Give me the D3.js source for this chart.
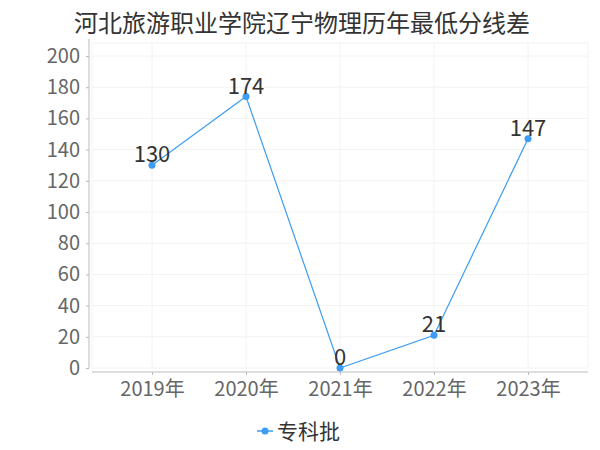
<!DOCTYPE html>
<html><head><meta charset="utf-8">
<script src="https://cdn.jsdelivr.net/npm/d3@7"></script>
<style>body{margin:0;background:#fff;}svg{display:block;font-family:"Noto Sans CJK SC",sans-serif;}svg text{font-family:"Noto Sans CJK SC",sans-serif;}</style>
</head><body>
<svg id="c" width="600" height="450"></svg>
<script>
const title = "河北旅游职业学院辽宁物理历年最低分线差";
const categories = ["2019年","2020年","2021年","2022年","2023年"];
const seriesName = "专科批";
const values = [130,174,0,21,147];
const yTicks = [0,20,40,60,80,100,120,140,160,180,200];

(function(){
const svg = d3.select("#c");
const color = "#3d9cf5";
const pL = 92, pR = 588, pT = 43, pB = 368;
const x = d3.scalePoint().domain(categories).range([152,528]);
const y = d3.scaleLinear().domain([0,200]).range([pB,56]);

svg.append("text").attr("x",302).attr("y",32).attr("text-anchor","middle")
  .attr("font-size",24).attr("fill","#333").text(title);

// grid
const g = svg.append("g");
g.selectAll("line.h").data(yTicks).join("line")
  .attr("x1",pL).attr("x2",pR).attr("y1",d=>y(d)).attr("y2",d=>y(d))
  .attr("stroke","#f2f2f2").attr("stroke-width",1);
g.append("line").attr("x1",pL).attr("x2",pR).attr("y1",pT).attr("y2",pT).attr("stroke","#f2f2f2");
g.selectAll("line.v").data(categories).join("line")
  .attr("x1",d=>x(d)).attr("x2",d=>x(d)).attr("y1",pT).attr("y2",pB)
  .attr("stroke","#f2f2f2");
g.append("line").attr("x1",pR).attr("x2",pR).attr("y1",pT).attr("y2",pB).attr("stroke","#f2f2f2");
g.append("line").attr("x1",pL).attr("x2",pL).attr("y1",pT).attr("y2",pB).attr("stroke","#f2f2f2");

// y axis
const yAxis = svg.append("g").attr("transform","translate(89,0)")
  .call(d3.axisLeft(y).tickValues(yTicks).tickSize(3).tickPadding(6));
yAxis.attr("font-family",null);
yAxis.select(".domain").attr("stroke","#bbb").attr("d",`M0,${pT-4}V${pB}`);
yAxis.selectAll(".tick line").attr("stroke","#bbb");
yAxis.selectAll("text").attr("font-size",20).attr("fill","#666");

// x axis
const xAxis = svg.append("g").attr("transform","translate(0,372)")
  .call(d3.axisBottom(x).tickSize(3).tickPadding(7));
xAxis.attr("font-family",null);
xAxis.select(".domain").attr("stroke","#bbb").attr("d",`M${pL},0H${pR}`);
xAxis.selectAll(".tick line").attr("stroke","#bbb");
xAxis.selectAll("text").attr("font-size",20).attr("fill","#666");

// line
const data = categories.map((c,i)=>({c,v:values[i]}));
svg.append("path").datum(data)
  .attr("d",d3.line().x(d=>x(d.c)).y(d=>y(d.v)))
  .attr("fill","none").attr("stroke",color).attr("stroke-width",1.2);
svg.selectAll("circle.p").data(data).join("circle")
  .attr("cx",d=>x(d.c)).attr("cy",d=>y(d.v)).attr("r",3.5).attr("fill",color);
svg.selectAll("text.lbl").data(data).join("text")
  .attr("x",d=>x(d.c)).attr("y",d=>y(d.v)-3).attr("text-anchor","middle")
  .attr("font-size",22).attr("fill","#333").text(d=>d.v);

// legend
svg.append("line").attr("x1",257).attr("x2",273).attr("y1",431).attr("y2",431).attr("stroke",color).attr("stroke-width",1.5);
svg.append("circle").attr("cx",265).attr("cy",431).attr("r",3.5).attr("fill",color);
svg.append("text").attr("x",277).attr("y",439).attr("font-size",21).attr("fill","#333").text(seriesName);
})();
</script>
</body></html>
